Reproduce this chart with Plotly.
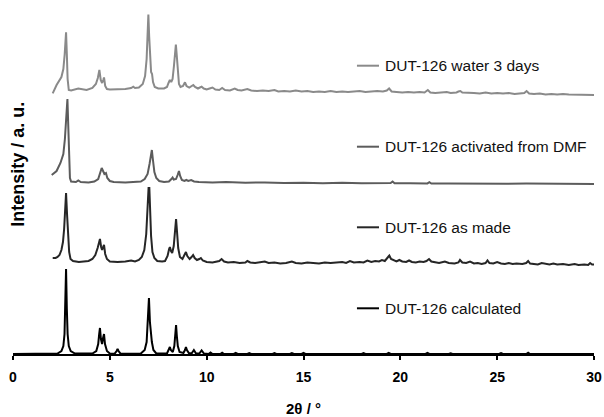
import plotly.graph_objects as go

# ---------------- data (2θ in degrees, stacked intensity in a.u.) ----------------
labels = ["DUT-126 water 3 days", "DUT-126 activated from DMF",
          "DUT-126 as made", "DUT-126 calculated"]
colors = ["#8a8a8a", "#5c5c5c", "#262626", "#000000"]

calc_x = [0, 2.3, 2.5, 2.6, 2.66, 2.7, 2.74, 2.78, 2.82, 2.88, 2.98, 3.2,
          4.1, 4.3, 4.4, 4.45, 4.49, 4.54, 4.6, 4.65, 4.7, 4.75, 4.85, 5.0,
          5.25, 5.35, 5.40, 5.45, 5.55,
          6.6, 6.8, 6.9, 6.96, 7.02, 7.07, 7.12, 7.17, 7.25, 7.4,
          7.95, 8.05, 8.1, 8.15, 8.25, 8.33, 8.38, 8.42, 8.46, 8.51, 8.6,
          8.8, 8.88, 8.93, 8.98, 9.08, 9.22, 9.34, 9.45, 9.62, 9.74, 9.86,
          10.1, 10.2, 10.3, 10.7, 10.8, 10.9, 11.4, 11.5, 11.6, 12.1, 12.2, 12.3,
          13.4, 13.5, 13.6, 14.3, 14.4, 14.5, 14.9, 15.0, 15.1, 16.1, 16.2, 16.3,
          17.0, 17.1, 17.2, 18.0, 18.1, 18.2, 19.3, 19.4, 19.5, 20.3, 20.4, 20.5,
          21.3, 21.4, 21.5, 22.5, 22.6, 22.7, 23.8, 23.9, 24.0, 25.1, 25.2, 25.3,
          26.5, 26.6, 26.7, 27.7, 27.8, 27.9, 28.9, 29.0, 29.1, 30.0]
calc_y = [0, 0.5, 3, 8, 20, 45, 85, 45, 20, 8, 3, 0.5,
          0.5, 3, 10, 20, 26, 15, 10, 16, 20, 10, 3, 0.5,
          0.3, 3, 5, 3, 0.3,
          0.5, 4, 12, 30, 56, 32, 20, 12, 4, 0.5,
          0.5, 4, 7, 4, 2, 8, 18, 29, 18, 8, 2,
          1, 4, 7, 4, 1, 0.5, 4, 0.5, 0.5, 3.5, 0.5,
          0, 1.5, 0, 0, 1.2, 0, 0, 1, 0, 0, 0.8, 0,
          0, 0.8, 0, 0, 0.8, 0, 0, 1, 0, 0, 0.7, 0,
          0, 0.6, 0, 0, 0.8, 0, 0, 1, 0, 0, 0.7, 0,
          0, 1, 0, 0, 0.6, 0, 0, 0.7, 0, 0, 0.8, 0,
          0, 1.2, 0, 0, 0.6, 0, 0, 0.5, 0, 0]

made_x = [2.05, 2.2, 2.3, 2.4, 2.5, 2.58, 2.64, 2.69, 2.74, 2.79, 2.84, 2.9, 2.97, 3.1, 3.4,
          3.9, 4.1, 4.25, 4.37, 4.44, 4.49, 4.55, 4.6, 4.65, 4.7, 4.76, 4.85, 5.0,
          5.4, 5.8, 6.1, 6.3, 6.5, 6.65, 6.78, 6.88, 6.95, 7.0, 7.04, 7.08, 7.13, 7.2, 7.3, 7.45, 7.7,
          7.85, 7.98, 8.06, 8.1, 8.16, 8.22, 8.3, 8.36, 8.42, 8.47, 8.53, 8.62, 8.75, 8.85, 8.93,
          9.0, 9.12, 9.22, 9.3, 9.38, 9.5, 9.62, 9.7, 9.8,
          10.0, 10.3, 10.5, 10.65, 10.77, 10.9, 11.1, 11.4, 11.7, 12.0, 12.1, 12.25, 12.5, 12.8,
          13.0, 13.2, 13.5, 13.8, 14.1, 14.4, 14.6, 14.9, 15.2, 15.5, 15.8, 16.1, 16.4, 16.7,
          17.0, 17.2, 17.4, 17.6, 17.9, 18.1, 18.3, 18.5, 18.7, 18.9, 19.05, 19.2, 19.35, 19.43,
          19.52, 19.65, 19.8, 19.95, 20.1, 20.3, 20.45, 20.6, 20.8, 21.0, 21.2, 21.35, 21.48,
          21.6, 21.8, 22.0, 22.3, 22.5, 22.8, 23.0, 23.08, 23.2, 23.4, 23.6, 23.8, 24.0, 24.2,
          24.4, 24.5, 24.6, 24.8, 25.0, 25.2, 25.4, 25.6, 25.8, 26.0, 26.3, 26.5, 26.6, 26.7,
          26.9, 27.1, 27.3, 27.5, 27.7, 27.9, 28.1, 28.4, 28.7, 29.0, 29.2, 29.5, 29.7, 29.8,
          29.9, 30.0]
made_y = [96, 96, 97, 99, 104, 112, 125, 145, 161, 140, 115, 102, 95, 93, 92,
          93, 95, 99, 106, 112, 115, 107, 104, 107, 109, 100, 95, 92.5,
          92, 92.5, 93.5, 92.5, 94, 97, 104, 120, 145, 166, 166, 145, 118, 102, 96, 93, 92.5,
          93, 98, 105, 107, 103, 101, 108, 122, 135, 122, 106, 97, 95, 99, 102,
          98, 95, 97, 99, 96, 94, 95, 96, 93.5,
          92, 91.5, 92, 93, 95, 92.5, 91.5, 92, 91, 91.5, 93, 91.5, 91, 91.5,
          92.5, 91, 91.5, 90.5, 91, 92.5, 91, 90.5, 91.5, 91, 90.5, 91.5, 91, 91.5,
          92, 91, 93, 91.5, 92, 91.5, 93.5, 92, 93, 92.5, 94, 93, 96, 98.5,
          95, 93.5, 92.5, 94, 92.5, 92, 93.5, 92, 91.5, 92.5, 92, 93, 95,
          92.5, 91.5, 91, 92.5, 91, 90.5, 91.5, 94, 91.5, 91, 92.5, 90.5, 91, 90,
          91, 93.5, 91, 90.5, 92, 90.5, 90, 91, 90, 90.5, 90, 91, 93, 90.5,
          90, 89.5, 91, 90, 89.5, 90.5, 89.5, 90, 89, 90, 89, 89.5, 89, 91,
          89.5, 89.5]

dmf_x = [2.0, 2.25, 2.45, 2.6, 2.68, 2.74, 2.81, 2.85, 2.89, 2.94, 3.0, 3.25, 3.37, 3.5, 3.9,
         4.2, 4.4, 4.5, 4.58, 4.65, 4.72, 4.8, 4.87, 5.0, 5.2, 5.8, 6.3,
         6.6, 6.8, 6.95, 7.05, 7.12, 7.17, 7.22, 7.3, 7.4, 7.55, 7.8,
         8.05, 8.18, 8.24, 8.3, 8.42, 8.5, 8.57, 8.63, 8.72, 8.85, 8.95, 9.05, 9.2, 9.35, 9.6,
         10.3, 11.0, 12.0, 13.0, 14.0, 15.0, 16.0, 17.0, 18.0, 19.0, 19.5, 19.6, 19.7,
         20.5, 21.4, 21.5, 21.6, 22.5, 23.5, 24.5, 25.5, 26.5, 27.5, 28.5, 29.5, 30.0]
dmf_y = [179, 183, 191, 200, 215, 235, 255, 230, 192, 176, 172.5, 172, 173.5, 172, 171.5,
         172.5, 175, 180, 186, 183, 180, 181, 176, 173, 172, 171.5, 172,
         172.5, 175, 180, 190, 202, 204, 195, 182, 176, 173, 172,
         172.5, 175, 176.5, 174.5, 175, 179, 183, 178, 174, 173, 174, 173, 174, 172.5, 172,
         171.5, 172, 171.3, 171.6, 171, 171.3, 170.8, 171.2, 170.7, 171, 171, 172.5, 170.8,
         170.7, 170.6, 171.8, 170.5, 170.6, 170.3, 170.6, 170.2, 170.4, 170.1, 170.3, 170, 170]

water_x = [2.05, 2.25, 2.5, 2.6, 2.67, 2.74, 2.78, 2.82, 2.88, 3.0, 3.37, 3.8,
           4.1, 4.28, 4.38, 4.46, 4.53, 4.6, 4.66, 4.7, 4.76, 4.85, 5.0,
           5.8, 6.1, 6.21, 6.3, 6.5, 6.7, 6.82, 6.9, 6.95, 6.99, 7.03, 7.08, 7.13, 7.18, 7.23, 7.32,
           7.5, 7.8, 7.95, 8.03, 8.1, 8.17, 8.24, 8.31, 8.37, 8.41, 8.45, 8.5, 8.57, 8.65, 8.78,
           8.88, 8.96, 9.1, 9.22, 9.31, 9.4, 9.55, 9.65, 9.74, 9.85,
           10.0, 10.15, 10.3, 10.45, 10.65, 10.8, 10.95, 11.2, 11.45, 11.6, 11.8, 12.1, 12.3,
           12.6, 12.9, 13.2, 13.5, 13.7, 14.0, 14.3, 14.6, 14.9, 15.2, 15.5, 15.8, 16.1, 16.4,
           16.7, 17.0, 17.3, 17.6, 17.9, 18.2, 18.5, 18.8, 19.1, 19.3, 19.42, 19.55, 19.8, 20.1,
           20.4, 20.7, 21.0, 21.25, 21.42, 21.55, 21.8, 22.1, 22.4, 22.6, 22.9, 23.0, 23.1,
           23.2, 23.5, 23.8, 24.1, 24.4, 24.7, 25.0, 25.3, 25.6, 25.9, 26.2, 26.4, 26.52, 26.65,
           26.9, 27.2, 27.5, 27.8, 28.1, 28.4, 28.7, 29.0, 29.3, 29.6, 30.0]
water_y = [260.7, 269, 277, 285, 300, 321.7, 300, 275, 264, 263.5, 265.5, 264,
           266, 270, 276, 284, 274, 271, 274, 276.5, 268, 265, 264.5,
           265, 266, 267.3, 266, 266.5, 270, 278, 295, 320, 339.5, 318, 290, 282, 280, 272, 267,
           265.5, 265.5, 267, 271, 274, 272, 275, 288, 305, 309.5, 300, 282, 270, 267, 268,
           271.7, 268, 266.5, 268, 269, 267, 265.5, 266.5, 267.3, 265.5,
           264.5, 265.5, 266.5, 264.5, 264, 266, 264, 263.5, 265.5, 264, 263.5, 265, 263.5,
           263, 263.5, 263, 264, 262.5, 263, 262.5, 263.5, 262.5, 263, 262, 262.5, 262, 263,
           262, 262.5, 262, 262.5, 263, 262, 262.5, 263, 262.5, 263.5, 265.5, 262.5, 262, 261.5,
           262, 261.5, 262, 261.5, 264, 261.5, 261, 261.5, 262, 261, 261.5, 262.5, 263,
           261.5, 261.5, 261, 260.5, 261.5, 260.5, 261, 260.5, 261, 260, 260.5, 261, 263, 260.5,
           260, 260.5, 259.5, 260, 259.5, 260, 259.5, 259.5, 259, 259.5, 259]

series_x = [water_x, dmf_x, made_x, calc_x]
series_y = [water_y, dmf_y, made_y, calc_y]
# y level of each legend key (same units as the stacked intensities)
key_levels = [288.3, 207.3, 126.7, 45.7]

# ---------------- figure ----------------
FONT = "Liberation Sans, Arial, sans-serif"
fig = go.Figure()
for xs, ys, c, name in zip(series_x, series_y, colors, labels):
    fig.add_trace(go.Scatter(x=xs, y=ys, mode="lines", name=name,
                             line=dict(color=c, width=2), showlegend=False))

for lvl, c, name in zip(key_levels, colors, labels):
    fig.add_shape(type="line", xref="x", yref="y", x0=17.76, x1=18.9, y0=lvl, y1=lvl,
                  line=dict(color=c, width=2))
    fig.add_annotation(x=19.1, y=lvl, xref="x", yref="y", text=name, showarrow=False,
                       xanchor="left", yanchor="middle",
                       font=dict(family=FONT, size=15.5, color="#111111"))

fig.add_annotation(xref="paper", yref="paper", x=0, y=0.55, xshift=5,
                   text="<b>Intensity / a. u.</b>", textangle=-90, showarrow=False,
                   xanchor="center", yanchor="middle",
                   font=dict(family=FONT, size=18, color="#000000"))

fig.update_layout(
    width=604, height=417,
    margin=dict(l=13, r=10, t=10, b=63, autoexpand=False),
    paper_bgcolor="white", plot_bgcolor="white",
    xaxis=dict(range=[0, 30], dtick=5, tick0=0, showline=True, linecolor="black",
               linewidth=2, ticks="outside", ticklen=4, tickwidth=1.5, tickcolor="black",
               showgrid=False, zeroline=False, ticklabelstandoff=5, automargin=False,
               tickfont=dict(family=FONT, size=14, color="black", weight="bold"),
               title=dict(text="<b>2θ / °</b>", standoff=20,
                          font=dict(family=FONT, size=15, color="black"))),
    yaxis=dict(range=[0, 344], visible=False, showgrid=False, zeroline=False,
               automargin=False),
)

fig.write_html(
    "out.html",
    config={"displayModeBar": False, "responsive": False},
    post_script=("document.documentElement.style.margin='0px';"
                 "document.documentElement.style.overflow='hidden';"
                 "document.body.style.margin='0px';"
                 "document.body.style.overflow='hidden';"),
)
